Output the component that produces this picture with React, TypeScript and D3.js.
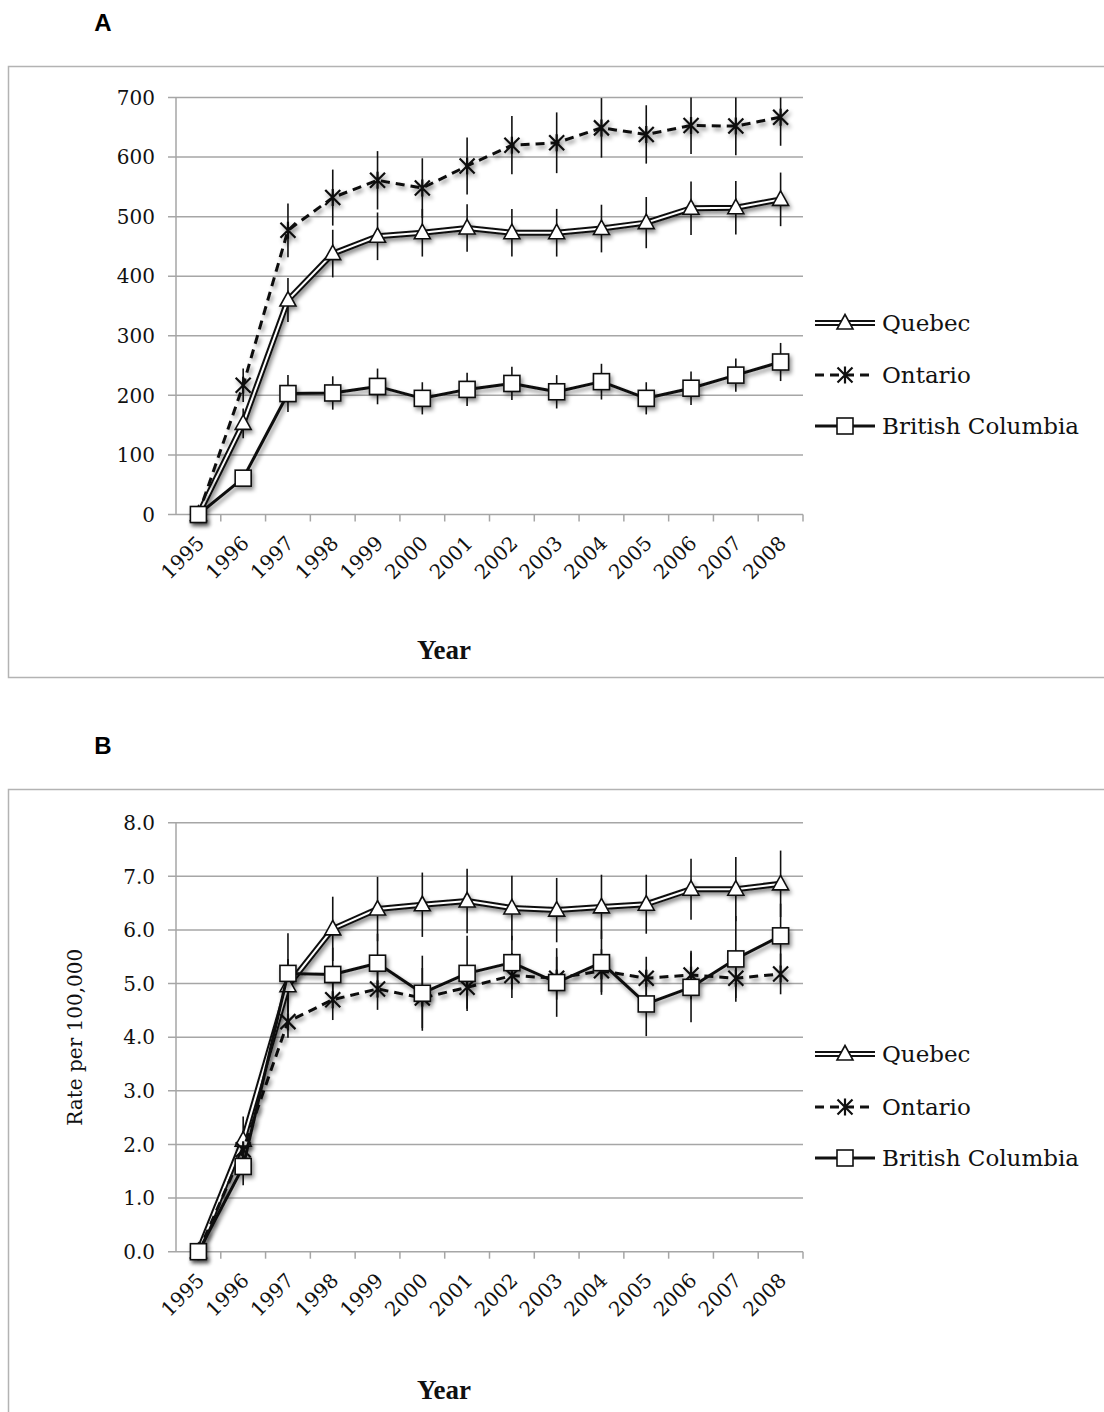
import { useEffect, useRef } from "react";
import * as d3 from "d3";

const YEARS = ["1995", "1996", "1997", "1998", "1999", "2000", "2001", "2002", "2003", "2004", "2005", "2006", "2007", "2008"];

// Panel A
const A_QUEBEC = [0, 153, 360, 438, 467, 473, 481, 473, 473, 480, 490, 514, 515, 529];
const A_QUEBEC_ERR = [0, 25, 37, 40, 40, 40, 40, 40, 40, 40, 43, 45, 45, 45];
const A_ONTARIO = [0, 217, 477, 532, 561, 548, 585, 620, 624, 649, 638, 653, 652, 667];
const A_ONTARIO_ERR = [0, 28, 45, 47, 49, 50, 48, 49, 51, 50, 49, 48, 49, 48];
const A_BC = [0, 61, 203, 204, 215, 195, 210, 220, 206, 223, 195, 212, 234, 256];
const A_BC_ERR = [0, 8, 31, 28, 30, 27, 28, 28, 28, 30, 27, 28, 28, 32];
const A_TICKS = [0, 100, 200, 300, 400, 500, 600, 700];

// Panel B
const B_QUEBEC = [0, 2.08, 4.96, 6.02, 6.39, 6.47, 6.54, 6.41, 6.37, 6.43, 6.48, 6.76, 6.76, 6.86];
const B_QUEBEC_ERR = [0, 0.44, 0.5, 0.6, 0.6, 0.6, 0.6, 0.6, 0.6, 0.6, 0.55, 0.57, 0.6, 0.62];
const B_ONTARIO = [0, 1.9, 4.29, 4.7, 4.9, 4.73, 4.93, 5.15, 5.1, 5.24, 5.1, 5.16, 5.1, 5.18];
const B_ONTARIO_ERR = [0, 0.35, 0.3, 0.38, 0.39, 0.56, 0.4, 0.42, 0.4, 0.4, 0.4, 0.45, 0.37, 0.38];
const B_BC = [0, 1.59, 5.19, 5.17, 5.38, 4.82, 5.19, 5.39, 5.02, 5.39, 4.62, 4.93, 5.46, 5.89];
const B_BC_ERR = [0, 0.35, 0.75, 0.5, 0.55, 0.7, 0.7, 0.5, 0.64, 0.6, 0.6, 0.65, 0.8, 0.6];
const B_TICKS = [0, 1, 2, 3, 4, 5, 6, 7, 8];

const SERIES_NAMES = ["Quebec", "Ontario", "British Columbia"];

const SERIF = "'DejaVu Serif', serif";
const GRID = "#a6a6a6";

type Marker = "triangle" | "star" | "square";

interface PanelSpec {
  letter: string;
  frameTop: number;
  frameBottom: number | null;
  yTop: number;
  yBottom: number;
  domainMax: number;
  ticks: number[];
  fmt: (v: number) => string;
  yTitle?: string;
  yearY: number;
  legendY: number[];
  series: { values: number[]; err: number[] }[];
}

const PANELS: PanelSpec[] = [
  {
    letter: "A",
    frameTop: 66,
    frameBottom: 677.5,
    yTop: 97.5,
    yBottom: 514.5,
    domainMax: 700,
    ticks: A_TICKS,
    fmt: d3.format("d"),
    yearY: 659,
    legendY: [323, 375, 426],
    series: [
      { values: A_QUEBEC, err: A_QUEBEC_ERR },
      { values: A_ONTARIO, err: A_ONTARIO_ERR },
      { values: A_BC, err: A_BC_ERR },
    ],
  },
  {
    letter: "B",
    frameTop: 789,
    frameBottom: null,
    yTop: 822.7,
    yBottom: 1251.7,
    domainMax: 8,
    ticks: B_TICKS,
    fmt: d3.format(".1f"),
    yTitle: "Rate per 100,000",
    yearY: 1399,
    legendY: [1054, 1107, 1158],
    series: [
      { values: B_QUEBEC, err: B_QUEBEC_ERR },
      { values: B_ONTARIO, err: B_ONTARIO_ERR },
      { values: B_BC, err: B_BC_ERR },
    ],
  },
];

const MARKERS: Marker[] = ["triangle", "star", "square"];

function drawMarker(g: d3.Selection<SVGGElement, unknown, null, undefined>, kind: Marker, x: number, y: number) {
  if (kind === "triangle") {
    g.append("path")
      .attr("d", `M${x},${y - 8.5} L${x + 8},${y + 6} L${x - 8},${y + 6} Z`)
      .attr("fill", "#fff")
      .attr("stroke", "#111")
      .attr("stroke-width", 1.6)
      .attr("stroke-linejoin", "miter");
  } else if (kind === "square") {
    g.append("rect")
      .attr("x", x - 8)
      .attr("y", y - 8)
      .attr("width", 16)
      .attr("height", 16)
      .attr("fill", "#fff")
      .attr("stroke", "#111")
      .attr("stroke-width", 1.6);
  } else {
    const r = 7.5;
    g.append("path")
      .attr("d", `M${x - r},${y - r} L${x + r},${y + r} M${x - r},${y + r} L${x + r},${y - r} M${x},${y - r - 1} L${x},${y + r + 1}`)
      .attr("stroke", "#111")
      .attr("stroke-width", 2.2)
      .attr("fill", "none");
  }
}

function drawLine(g: d3.Selection<SVGGElement, unknown, null, undefined>, idx: number, d: string) {
  if (idx === 0) {
    g.append("path").attr("d", d).attr("fill", "none").attr("stroke", "#111").attr("stroke-width", 6).attr("stroke-linejoin", "round");
    g.append("path").attr("d", d).attr("fill", "none").attr("stroke", "#fff").attr("stroke-width", 2).attr("stroke-linejoin", "round");
  } else if (idx === 1) {
    g.append("path").attr("d", d).attr("fill", "none").attr("stroke", "#111").attr("stroke-width", 3).attr("stroke-dasharray", "9,6");
  } else {
    g.append("path").attr("d", d).attr("fill", "none").attr("stroke", "#111").attr("stroke-width", 3).attr("stroke-linejoin", "round");
  }
}

export default function App() {
  const svgRef = useRef<SVGSVGElement>(null);

  useEffect(() => {
    if (!svgRef.current) return;
    const svg = d3.select(svgRef.current);
    svg.selectAll("*").remove();

    const defs = svg.append("defs");
    const f = defs.append("filter").attr("id", "shadow").attr("x", "-20%").attr("y", "-20%").attr("width", "140%").attr("height", "140%");
    f.append("feDropShadow").attr("dx", 2).attr("dy", 3).attr("stdDeviation", 2).attr("flood-color", "#000").attr("flood-opacity", 0.45);

    const x = d3.scaleBand().domain(YEARS).range([176, 803]);
    const cx = (yr: string) => (x(yr) ?? 0) + x.bandwidth() / 2;

    PANELS.forEach((p) => {
      const y = d3.scaleLinear().domain([0, p.domainMax]).range([p.yBottom, p.yTop]);

      // frame (right edge lies outside the picture)
      const bottom = p.frameBottom ?? 1420;
      svg.append("path")
        .attr("d", `M1110,${p.frameTop + 0.5} H8.5 V${bottom}${p.frameBottom ? " H1110" : ""}`)
        .attr("fill", "none")
        .attr("stroke", "#b3b3b3")
        .attr("stroke-width", 1.5);

      svg.append("text")
        .attr("x", 103)
        .attr("y", p.frameTop - 35)
        .attr("text-anchor", "middle")
        .attr("font-family", "'Liberation Sans', Arial, sans-serif")
        .attr("font-weight", "bold")
        .attr("font-size", 24)
        .text(p.letter);

      // gridlines
      svg.append("g")
        .selectAll("line")
        .data(p.ticks)
        .enter()
        .append("line")
        .attr("x1", 168)
        .attr("x2", 803)
        .attr("y1", (d) => y(d))
        .attr("y2", (d) => y(d))
        .attr("stroke", GRID)
        .attr("stroke-width", 1.5);

      // y axis line
      svg.append("line")
        .attr("x1", 176).attr("x2", 176)
        .attr("y1", p.yTop).attr("y2", p.yBottom)
        .attr("stroke", GRID).attr("stroke-width", 1.5);

      // x ticks at category boundaries
      const boundaries = YEARS.map((yr) => (x(yr) ?? 0) + x.bandwidth());
      svg.append("g")
        .selectAll("line")
        .data(boundaries)
        .enter()
        .append("line")
        .attr("x1", (d) => d)
        .attr("x2", (d) => d)
        .attr("y1", p.yBottom)
        .attr("y2", p.yBottom + 7)
        .attr("stroke", GRID)
        .attr("stroke-width", 1.5);

      // y tick labels
      svg.append("g")
        .selectAll("text")
        .data(p.ticks)
        .enter()
        .append("text")
        .attr("x", 155)
        .attr("y", (d) => y(d))
        .attr("dy", "0.36em")
        .attr("text-anchor", "end")
        .attr("font-family", SERIF)
        .attr("font-size", 20)
        .attr("fill", "#111")
        .text((d) => p.fmt(d));

      // x tick labels
      svg.append("g")
        .selectAll("text")
        .data(YEARS)
        .enter()
        .append("text")
        .attr("transform", (d) => `translate(${cx(d) + 7},${p.yBottom + 30}) rotate(-45)`)
        .attr("text-anchor", "end")
        .attr("font-family", SERIF)
        .attr("font-size", 20)
        .attr("fill", "#111")
        .text((d) => d);

      svg.append("text")
        .attr("x", 444)
        .attr("y", p.yearY)
        .attr("text-anchor", "middle")
        .attr("font-family", "'Liberation Serif', 'Times New Roman', serif")
        .attr("font-weight", "bold")
        .attr("font-size", 27)
        .attr("fill", "#111")
        .text("Year");

      if (p.yTitle) {
        svg.append("text")
          .attr("transform", `translate(82,${(p.yTop + p.yBottom) / 2}) rotate(-90)`)
          .attr("text-anchor", "middle")
          .attr("font-family", SERIF)
          .attr("font-size", 20)
          .attr("fill", "#111")
          .text(p.yTitle);
      }

      // error bars
      const eg = svg.append("g");
      p.series.forEach((s) => {
        s.values.forEach((v, i) => {
          if (!s.err[i]) return;
          eg.append("line")
            .attr("x1", cx(YEARS[i]))
            .attr("x2", cx(YEARS[i]))
            .attr("y1", y(Math.min(p.domainMax, v + s.err[i])))
            .attr("y2", y(Math.max(0, v - s.err[i])))
            .attr("stroke", "#111")
            .attr("stroke-width", 1.6);
        });
      });

      // series lines + markers
      const line = d3.line<number>().x((_, i) => cx(YEARS[i])).y((d) => y(d));
      p.series.forEach((s, idx) => {
        const g = svg.append("g").attr("filter", "url(#shadow)");
        drawLine(g, idx, line(s.values) ?? "");
        s.values.forEach((v, i) => drawMarker(g, MARKERS[idx], cx(YEARS[i]), y(v)));
      });

      // legend
      SERIES_NAMES.forEach((name, idx) => {
        const ly = p.legendY[idx];
        const g = svg.append("g");
        drawLine(g, idx, `M815,${ly} L875,${ly}`);
        drawMarker(g, MARKERS[idx], 845, ly);
        g.append("text")
          .attr("x", 882)
          .attr("y", ly)
          .attr("dy", "0.36em")
          .attr("font-family", SERIF)
          .attr("font-size", 23)
          .attr("fill", "#111")
          .text(name);
      });
    });
  }, []);

  return (
    <div style={{ position: "absolute", left: 0, top: 0 }}>
      <svg ref={svgRef} width={1104} height={1412} style={{ display: "block", background: "#fff" }} />
    </div>
  );
}
